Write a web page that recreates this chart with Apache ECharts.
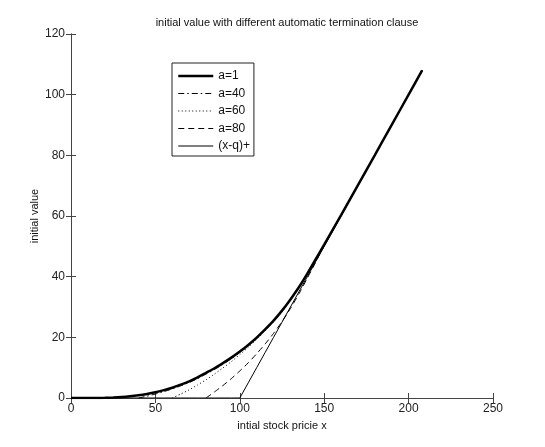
<!DOCTYPE html>
<html>
<head>
<meta charset="utf-8">
<title>initial value</title>
<script src="https://cdn.jsdelivr.net/npm/echarts@6/dist/echarts.min.js"></script>
<style>
html, body { margin: 0; padding: 0; background: #fff; }
#chart { width: 545px; height: 447px; }
</style>
</head>
<body>
<div id="chart"></div>
<script>
// stock price grid (x)
var xGrid = [0, 5, 10, 15, 20, 25, 30, 35, 40, 45, 50, 55, 60, 65, 70, 75, 80, 85, 90, 95,
             100, 105, 110, 115, 120, 125, 130, 135, 140, 145, 150, 160, 170, 180, 190, 200, 208];

// initial value for each termination level (null = not drawn)
var valA1  = [0, 0, 0, 0.02, 0.06, 0.15, 0.3, 0.55, 0.9, 1.35, 1.9, 2.6, 3.4, 4.4, 5.5, 6.8, 8.3, 9.8, 11.5, 13.3,
              15.3, 17.5, 19.9, 22.6, 25.5, 28.8, 32.5, 36.5, 41.0, 45.8, 50.6, 60.3, 70.2, 80.1, 90.05, 100, 108];
var valA40 = [null, null, null, null, null, null, null, null, 0, 0.6, 1.3, 2.1, 3.0, 4.0, 5.1, 6.4, 7.9, 9.4, 11.1, 13.0,
              15.0, 17.2, 19.7, 22.4, 25.3, 28.6, 32.4, 36.4, 40.9, 45.8, 50.6, 60.3, 70.2, 80.1, 90.05, 100, 108];
var valA60 = [null, null, null, null, null, null, null, null, null, null, null, null, 0, 1.3, 2.7, 4.3, 6.0, 7.9, 9.9, 12.0,
              14.3, 16.7, 19.3, 22.1, 25.1, 28.4, 32.2, 36.3, 40.8, 45.7, 50.5, 60.3, 70.2, 80.1, 90.05, 100, 108];
var valA80 = [null, null, null, null, null, null, null, null, null, null, null, null, null, null, null, null, 0, 2.0, 4.1, 6.4,
              8.9, 11.6, 14.6, 17.8, 21.3, 25.2, 29.5, 34.3, 39.5, 44.8, 50.2, 60.1, 70.1, 80.05, 90.0, 100, 108];
var valPayoff = [0, 0, 0, 0, 0, 0, 0, 0, 0, 0, 0, 0, 0, 0, 0, 0, 0, 0, 0, 0,
                 0, 5, 10, 15, 20, 25, 30, 35, 40, 45, 50, 60, 70, 80, 90, 100, 108];

var seriesNames = ['a=1', 'a=40', 'a=60', 'a=80', '(x-q)+'];
var xTicks = [0, 250, 50];   // min, max, interval
var yTicks = [0, 120, 20];

function pairs(vals) {
    var out = [];
    for (var i = 0; i < xGrid.length; i++) {
        if (vals[i] !== null) out.push([xGrid[i], vals[i]]);
    }
    return out;
}

var lineCol = '#444';
var font = 'Liberation Sans, Arial, sans-serif';

// line styles shared by the series and their legend entries
var styles = [
    { color: '#000', width: 2.5, type: 'solid' },
    { color: '#000', width: 1, type: [6, 3, 1.5, 3] },
    { color: '#000', width: 1, type: [1, 2.5] },
    { color: '#000', width: 1, type: [6, 4] },
    { color: '#000', width: 1, type: 'solid' }
];
var valueSets = [valA1, valA40, valA60, valA80, valPayoff];

var legendData = [];
var series = [];
for (var k = 0; k < seriesNames.length; k++) {
    legendData.push({ name: seriesNames[k], lineStyle: styles[k], itemStyle: { opacity: 0 } });
    series.push({
        name: seriesNames[k], type: 'line', data: pairs(valueSets[k]), symbol: 'none',
        smooth: k < 4 ? 0.2 : false,
        itemStyle: { color: '#000' },
        lineStyle: styles[k],
        z: k === 0 ? 5 : 2
    });
}

var option = {
    backgroundColor: '#fff',
    animation: false,
    title: {
        text: 'initial value with different automatic termination clause',
        left: 282,
        textAlign: 'center',
        top: 12,
        textStyle: { fontSize: 11, fontWeight: 'normal', color: '#111', fontFamily: font }
    },
    legend: {
        orient: 'vertical',
        left: 172,
        top: 63,
        data: legendData,
        backgroundColor: '#fff',
        borderColor: '#222',
        borderWidth: 1,
        borderRadius: 0,
        padding: [7, 4, 4, 5],
        itemWidth: 35,
        itemHeight: 12,
        itemGap: 5.5,
        itemStyle: { opacity: 0 },
        textStyle: { fontSize: 12, color: '#111', fontFamily: font }
    },
    grid: { left: 71, right: 52, top: 34, bottom: 49 },
    xAxis: [
        {
            type: 'value', min: xTicks[0], max: xTicks[1], interval: xTicks[2],
            name: 'intial stock pricie x', nameLocation: 'middle', nameGap: 22,
            nameMoveOverlap: false,
            nameTextStyle: { fontSize: 11, color: '#111', fontFamily: font },
            axisLine: { lineStyle: { color: lineCol } },
            axisTick: { inside: true, length: 5, lineStyle: { color: lineCol } },
            axisLabel: { fontSize: 12, color: '#222', margin: 5, fontFamily: font },
            splitLine: { show: false }
        },
        {
            type: 'value', position: 'top', min: xTicks[0], max: xTicks[1], interval: xTicks[2],
            axisLine: { show: true, lineStyle: { color: lineCol } },
            axisTick: { inside: true, length: 5, lineStyle: { color: lineCol } },
            axisLabel: { show: false },
            splitLine: { show: false }
        }
    ],
    yAxis: [
        {
            type: 'value', min: yTicks[0], max: yTicks[1], interval: yTicks[2],
            name: 'initial value', nameLocation: 'middle', nameGap: 31,
            nameMoveOverlap: false,
            nameTextStyle: { fontSize: 11, color: '#111', fontFamily: font },
            axisLine: { show: true, lineStyle: { color: lineCol } },
            axisTick: { show: true, inside: true, length: 5, lineStyle: { color: lineCol } },
            axisLabel: { fontSize: 12, color: '#222', margin: 6, fontFamily: font },
            splitLine: { show: false }
        },
        {
            type: 'value', position: 'right', min: yTicks[0], max: yTicks[1], interval: yTicks[2],
            axisLine: { show: true, lineStyle: { color: lineCol } },
            axisTick: { show: true, inside: true, length: 5, lineStyle: { color: lineCol } },
            axisLabel: { show: false },
            splitLine: { show: false }
        }
    ],
    series: series
};

var myChart = echarts.init(document.getElementById('chart'), null, { renderer: 'canvas' });
myChart.setOption(option);
</script>
</body>
</html>
